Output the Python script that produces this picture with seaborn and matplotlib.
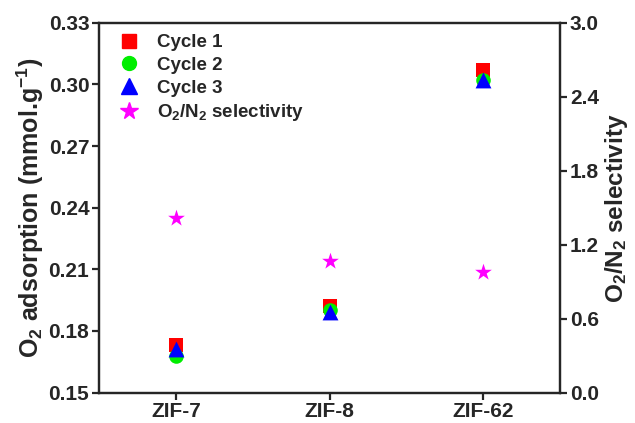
import numpy as np
import pandas as pd
import seaborn as sns
import matplotlib.pyplot as plt
from matplotlib.lines import Line2D

# Data
materials = ["ZIF-7", "ZIF-8", "ZIF-62"]
cycle1 = [0.173, 0.192, 0.307]
cycle2 = [0.168, 0.190, 0.302]
cycle3 = [0.171, 0.189, 0.302]
selectivity = [1.42, 1.07, 0.98]

sns.set_style("ticks")
plt.rcParams['font.family'] = ['Liberation Sans', 'DejaVu Sans']
plt.rcParams['font.weight'] = 'bold'
plt.rcParams['mathtext.fontset'] = 'custom'
plt.rcParams['mathtext.rm'] = 'Liberation Sans:bold'
plt.rcParams['mathtext.bf'] = 'Liberation Sans:bold'
plt.rcParams['mathtext.default'] = 'rm'

df = pd.DataFrame({"material": materials, "c1": cycle1, "c2": cycle2,
                   "c3": cycle3, "sel": selectivity})
df["x"] = np.arange(len(materials))

fig = plt.figure(figsize=(6.35, 4.23), dpi=100)
ax = fig.add_axes([0.156, 0.072, 0.726, 0.874])
ax2 = ax.twinx()

ms = 110
sns.scatterplot(data=df, x="x", y="c1", ax=ax, color="#ff0000", marker="s", s=ms, linewidth=0, zorder=3)
sns.scatterplot(data=df, x="x", y="c2", ax=ax, color="#00ee00", marker="o", s=ms, linewidth=0, zorder=4)
sns.scatterplot(data=df, x="x", y="c3", ax=ax, color="#0000ff", marker="^", s=ms + 20, linewidth=0, zorder=5)
sns.scatterplot(data=df, x="x", y="sel", ax=ax2, color="#ff00ff", marker="*", s=ms + 50, linewidth=0, zorder=5)

ax.set_xlim(-0.5, 2.5)
ax.set_ylim(0.15, 0.33)
ax.set_yticks(np.arange(0.15, 0.331, 0.03))
ax.set_yticklabels([f"{v:.2f}" for v in np.arange(0.15, 0.331, 0.03)])
ax.set_xticks(df["x"])
ax.set_xticklabels(materials)
ax.set_xlabel("")
ax.set_ylabel(r"O$_2$ adsorption (mmol.g$^{-1}$)", fontsize=18, fontweight='bold', labelpad=2)

ax2.set_ylim(0, 3.0)
ax2.set_yticks(np.arange(0, 3.01, 0.6))
ax2.set_yticklabels([f"{v:.1f}" for v in np.arange(0, 3.01, 0.6)])
ax2.set_ylabel(r"O$_2$/N$_2$ selectivity", fontsize=17.5, fontweight='bold', labelpad=3)

for a in (ax, ax2):
    for sp in a.spines.values():
        sp.set_linewidth(1.6)
        sp.set_visible(True)
    a.tick_params(axis='both', direction='out', length=5, width=1.6, labelsize=15, pad=2)
    for lab in a.get_xticklabels() + a.get_yticklabels():
        lab.set_fontweight('bold')

handles = [
    Line2D([], [], color="#ff0000", marker="s", ls="", markersize=10),
    Line2D([], [], color="#00ee00", marker="o", ls="", markersize=10),
    Line2D([], [], color="#0000ff", marker="^", ls="", markersize=11),
    Line2D([], [], color="#ff00ff", marker="*", ls="", markersize=13),
]
labels = ["Cycle 1", "Cycle 2", "Cycle 3", r"O$_2$/N$_2$ selectivity"]
ax.legend(handles, labels, loc="upper left", frameon=False,
          handletextpad=0.5, labelspacing=0.3, borderaxespad=0.2,
          prop={'weight': 'bold', 'size': 13.5})

fig.savefig("out.png", dpi=100)
